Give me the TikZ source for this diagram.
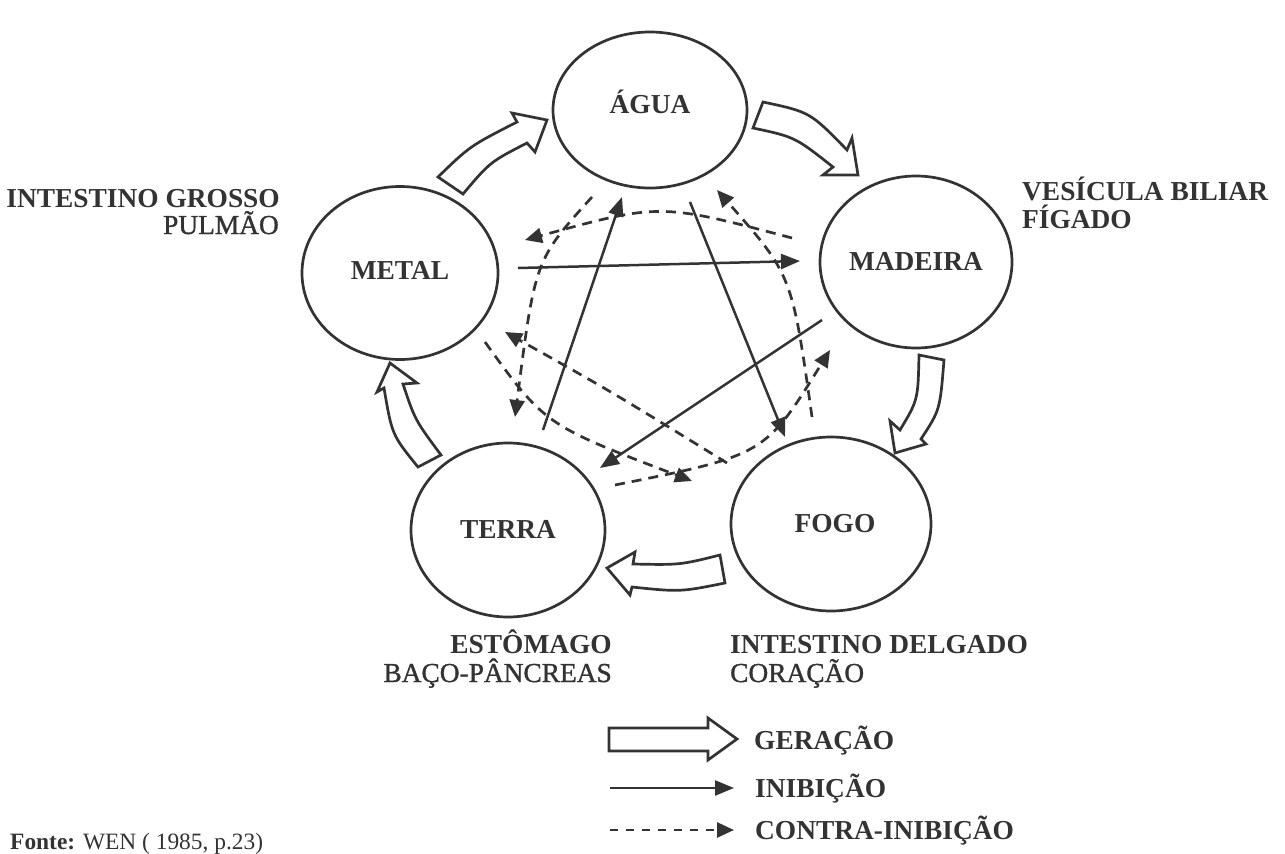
\documentclass[tikz,border=0pt]{standalone}
\usepackage{fontspec}
\setmainfont{Liberation Serif}
\newfontfamily\heavyreg{Liberation Serif}[FakeBold=1.2]
\usetikzlibrary{arrows.meta,shapes.geometric}
\definecolor{ink}{HTML}{333333}
\tikzset{
  elem/.style={draw=ink, line width=2.7bp, ellipse, inner sep=0pt},
  lab/.style={font=\fontsize{27.5}{30}\selectfont\bfseries, text=ink, inner sep=0pt, anchor=base},
  labr/.style={font=\fontsize{27.5}{30}\selectfont\heavyreg, text=ink, inner sep=0pt},
  labb/.style={font=\fontsize{27.5}{30}\selectfont\bfseries, text=ink, inner sep=0pt},
  gen/.style={draw=ink, line width=2.7bp, fill=white, line join=miter},
  inib/.style={draw=ink, line width=2.5bp, -{Triangle[length=19bp,width=15bp]}},
  contra/.style={draw=ink, line width=2.7bp, dash pattern=on 10bp off 7bp, -{Triangle[length=17bp,width=15bp]}}
}
\begin{document}
\begin{tikzpicture}[x=1bp,y=-1bp]
\fill[white] (0,0) rectangle (1285,854);
\useasboundingbox (0,0) rectangle (1285,854);

% elements
\node[elem, minimum width=194bp, minimum height=156bp] (agua) at (650,110) {};
\node[elem, minimum width=192bp, minimum height=172bp] (madeira) at (916,262) {};
\node[elem, minimum width=196bp, minimum height=173bp] (metal) at (400,273) {};
\node[elem, minimum width=194bp, minimum height=174bp] (terra) at (508,530) {};
\node[elem, minimum width=200bp, minimum height=174bp] (fogo) at (831,524) {};

\node[lab] (tagua) at ([yshift=-3bp]agua.center) {ÁGUA};
\node[lab] (tmadeira) at ([yshift=-8bp]madeira.center) {MADEIRA};
\node[lab] (tmetal) at ([yshift=-6bp]metal.center) {METAL};
\node[lab] (tterra) at ([yshift=-8bp]terra.center) {TERRA};
\node[lab] (tfogo) at ([xshift=4bp,yshift=-8bp]fogo.center) {FOGO};

% organ labels
\node[labb, anchor=base east] (ig) at (280,207) {INTESTINO GROSSO};
\node[labr, anchor=base east] (pu) at (279,234) {PULMÃO};
\node[labb, anchor=base west] (vb) at (1022,200) {VESÍCULA BILIAR};
\node[labb, anchor=base west] (fi) at (1022,228) {FÍGADO};
\node[labb, anchor=base east] (es) at (612,653) {ESTÔMAGO};
\node[labr, anchor=base east] (bp) at (612,682) {BAÇO-PÂNCREAS};
\node[labb, anchor=base west] (id) at (730,653) {INTESTINO DELGADO};
\node[labr, anchor=base west] (co) at (730,682) {CORAÇÃO};

% generation (block arrows)
\draw[gen] (438,177) .. controls (470,146) .. (517,122) -- (512,113) -- (547,120) -- (535,152) -- (527,143) .. controls (490,162) .. (463,194) -- cycle;
\draw[gen] (763,102) .. controls (810,112) .. (847,150) -- (852,138) -- (858,175) -- (823,175) -- (833,167) .. controls (795,137) .. (753,128) -- cycle;
\draw[gen] (944,360) .. controls (940,410) .. (921,439) -- (926,444) -- (895,453) -- (890,421) -- (900,430) .. controls (918,400) .. (919,355) -- cycle;
\draw[gen] (720,555) .. controls (680,565) .. (633,564) -- (635,552) -- (607,568) -- (630,595) -- (632,587) .. controls (680,592) .. (725,583) -- cycle;
\draw[gen] (441,455) .. controls (415,420) .. (403,384) -- (417,383) -- (390,363) -- (377,392) -- (384,388) .. controls (392,435) .. (418,467) -- cycle;

% inhibition end points
\coordinate (i1a) at (518,268); \coordinate (i1b) at (800,261);
\coordinate (i2a) at (690,202); \coordinate (i2b) at (785,437);
\coordinate (i3a) at (822,320); \coordinate (i3b) at (600,468);
\coordinate (i4a) at (543,430); \coordinate (i4b) at (622,197);
\draw[inib] (i1a) -- (i1b);
\draw[inib] (i2a) -- (i2b);
\draw[inib] (i3a) -- (i3b);
\draw[inib] (i4a) -- (i4b);

% counter-inhibition end points
\coordinate (c1a) at (792,238); \coordinate (c1b) at (525,240);
\coordinate (c2a) at (592,197); \coordinate (c2b) at (515,417);
\coordinate (c3a) at (485,342); \coordinate (c3b) at (692,481);
\coordinate (c4a) at (727,463); \coordinate (c4b) at (505,332);
\coordinate (c5a) at (615,485); \coordinate (c5b) at (830,350);
\coordinate (c6a) at (812,417); \coordinate (c6b) at (717,190);
\draw[contra] (c1a) .. controls (660,203) .. (c1b);
\draw[contra] (c2a) .. controls (535,260) .. (c2b);
\draw[contra] (c3a) .. controls (545,425) .. (c3b);
\draw[contra] (c4a) .. controls (612,392) .. (c4b);
\draw[contra] (c5a) .. controls (765,455) .. (c5b);
\draw[contra] (c6a) .. controls (792,275) .. (c6b);

% legend
\draw[gen] (609,728) -- (708,728) -- (708,718) -- (737,739) -- (708,760) -- (708,751) -- (609,751) -- cycle;
\coordinate (l2a) at (610,788); \coordinate (l2b) at (734,788);
\coordinate (l3a) at (610,830); \coordinate (l3b) at (734,830);
\draw[inib] (l2a) -- (l2b);
\draw[contra, dash pattern=on 8bp off 8bp] (l3a) -- (l3b);
\node[labb, anchor=base west] (lg) at (754,749) {GERAÇÃO};
\node[labb, anchor=base west] (li) at (755,797) {INIBIÇÃO};
\node[labb, anchor=base west] (lc) at (755,839) {CONTRA-INIBIÇÃO};

% source
\node[font=\fontsize{23.5}{25}\selectfont, text=ink, inner sep=0pt, anchor=base west] (fonte) at (10,849) {\textbf{Fonte:} WEN ( 1985, p.23)};
\end{tikzpicture}
\end{document}
